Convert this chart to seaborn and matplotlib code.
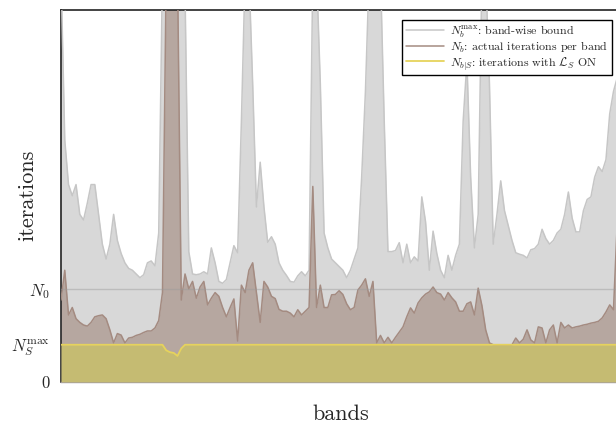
import numpy as np
import pandas as pd
import matplotlib
matplotlib.use("Agg")
import matplotlib.pyplot as plt
import seaborn as sns

# ---- data (y in units where ylim = 0..100) ----
N0 = 25
NS_MAX = 10

bound_max = [110, 65, 53, 50, 53, 45, 43.5, 48, 53, 53,
             45, 37, 33, 37, 45, 38, 34.5, 32, 30.5, 30,
             29, 28, 28.8, 32, 32.5, 31.2, 40, 110, 110, 110,
             110, 110, 110, 105, 35, 29, 28.8, 29, 29.6, 29,
             36, 32, 27, 26.5, 27.5, 32, 36.6, 34.7, 70, 110,
             110, 80, 47, 59, 47, 37.5, 39, 37, 32, 30,
             28.6, 27, 26.8, 28.5, 29.6, 28.5, 30, 110, 110, 80,
             40, 36, 33, 32, 31, 30, 28, 30, 33, 36,
             55, 78, 110, 110, 110, 110, 70, 35, 35, 35.3,
             37.4, 32, 37, 32, 33.6, 32.5, 49.7, 43, 30, 40.5,
             34.5, 30, 28, 34, 30, 34, 37, 70, 86, 55,
             36, 45, 110, 110, 80, 37, 45, 54, 46, 42,
             38, 34.7, 34.3, 34, 33.3, 35.5, 35.8, 37, 41, 38.5,
             37, 38, 40, 41, 45, 51, 44, 40.3, 40.3, 46,
             49, 49.7, 55, 57.8, 56.5, 59.7, 72, 78, 81.7, 80.6]

actual = [22, 30, 18, 20, 17, 16, 15.3, 15, 16, 17.5,
          17.8, 18, 17, 14, 10.5, 13, 12.6, 10.5, 11.8, 12,
          12.5, 12.8, 13.3, 13.7, 13.7, 14.5, 16.5, 24, 110, 110,
          110, 110, 22, 29, 25, 27, 22.5, 25.5, 27, 20.7,
          22.5, 24, 23, 20, 17.5, 20, 22.3, 11, 26, 24,
          30, 32, 24, 16, 27, 25.5, 23, 22.4, 19.5, 19,
          19, 18.5, 17.5, 19.4, 18, 19, 20, 52.5, 20, 26,
          20, 20, 23.4, 23.5, 24.5, 23.5, 21, 19.4, 20, 24.7,
          26, 27.7, 23, 27, 10.5, 12.5, 10.5, 12, 10.5, 12,
          13.4, 14.8, 17.5, 19.9, 18.5, 21.2, 22.6, 23.6, 24.2, 25.5,
          24, 23.6, 22, 24, 22.6, 21.5, 19, 19, 21, 21.5,
          18, 25.2, 20.5, 14, 10.5, 10, 10, 10, 10, 10,
          10, 11.8, 10.5, 11.5, 14, 11.3, 10.5, 14.8, 14.5, 10.5,
          14, 15.3, 10.5, 16, 14.5, 15.3, 14.5, 14.8, 15, 15.3,
          15.5, 15.8, 16, 16.3, 17.2, 18.8, 20.7, 19.4, 42.7, 14.8]

with_ls = [10] * 28 + [8.5, 8, 7.8, 7, 9] + [10] * 117

labels = [r"$N_b^{\max}$: band-wise bound",
          r"$N_b$: actual iterations per band",
          r"$N_{b|S}$: iterations with $\mathcal{L}_S$ ON"]
ytick_labels = ["0", r"$N_S^{\max}$", r"$N_0$"]

bands = np.arange(len(bound_max))
df = pd.DataFrame({"band": bands, "bound": bound_max,
                   "actual": actual, "ls": with_ls})

# ---- style ----
sns.set_theme(style="white")
plt.rcParams["font.family"] = ["cmr10", "DejaVu Serif"]
plt.rcParams["mathtext.fontset"] = "cm"
plt.rcParams["axes.formatter.use_mathtext"] = True

gray_fill, gray_line = "#d8d8d8", "#c6c6c6"
brown_fill, brown_line = "#b6a7a0", "#a48b81"
yel_fill, yel_line = "#c5bb72", "#e6d35c"

fig = plt.figure(figsize=(6.16, 4.26), dpi=100)
ax = fig.add_axes([61 / 616, (426 - 382) / 426, 560 / 616, (382 - 9.5) / 426])

ax.fill_between(df["band"], 0, df["bound"], color=gray_fill, lw=0, zorder=1)
ax.fill_between(df["band"], 0, df["actual"], color=brown_fill, lw=0, zorder=2)
ax.fill_between(df["band"], 0, df["ls"], color=yel_fill, lw=0, zorder=3)

sns.lineplot(data=df, x="band", y="bound", color=gray_line, lw=1.1, ax=ax,
             zorder=4, label=labels[0])
sns.lineplot(data=df, x="band", y="actual", color=brown_line, lw=1.1, ax=ax,
             zorder=5, label=labels[1])
sns.lineplot(data=df, x="band", y="ls", color=yel_line, lw=1.3, ax=ax,
             zorder=6, label=labels[2])

ax.axhline(N0, color="#9a9a9a", lw=1.0, alpha=0.45, zorder=7)

ax.set_xlim(0, len(bands) - 1)
ax.set_ylim(0, 100)
ax.set_xticks([])
ax.set_yticks([0, NS_MAX, N0])
ax.set_yticklabels(ytick_labels, fontsize=12)
ax.tick_params(axis="y", length=0, pad=8)

ax.set_xlabel("bands", fontsize=16, labelpad=16)
ax.set_ylabel("iterations", fontsize=16)
ax.yaxis.set_label_coords(-0.042, 0.5)

for s in ["top", "left"]:
    ax.spines[s].set_color("#222222")
    ax.spines[s].set_linewidth(1.2)
ax.spines["bottom"].set_color("#9a94a8")
ax.spines["bottom"].set_linewidth(1.0)
ax.spines["right"].set_visible(False)

leg = ax.legend(loc="upper right", bbox_to_anchor=(551 / 560, 1 - 10.5 / 372.5),
                borderaxespad=0, fontsize=8.6, frameon=True, fancybox=False,
                framealpha=1, edgecolor="black", borderpad=0.3,
                handlelength=3.2, handletextpad=0.5, labelspacing=0.0)
leg.get_frame().set_linewidth(1.0)

fig.savefig("out.png", dpi=100)
